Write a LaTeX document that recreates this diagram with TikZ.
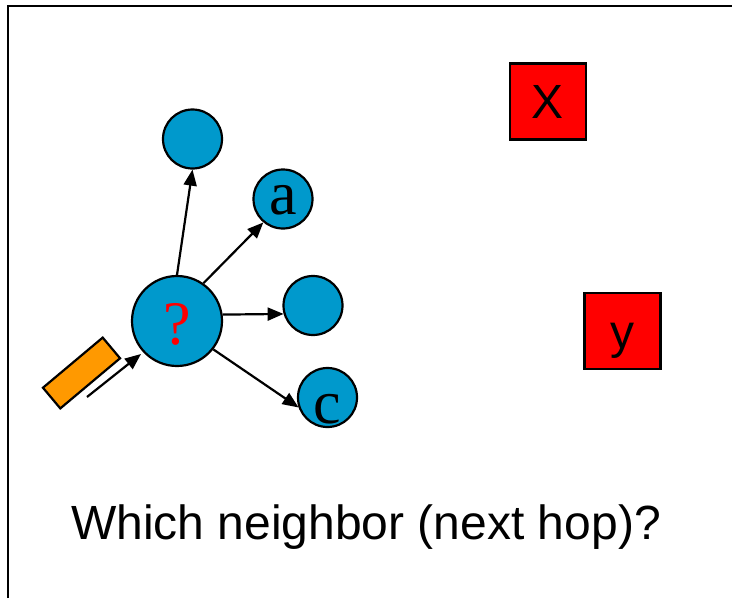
\documentclass[tikz,border=0pt]{standalone}
\usepackage{fontspec}
\setmainfont{Liberation Serif}
\newfontfamily\arialfont{Liberation Sans}
\usetikzlibrary{arrows.meta}
\definecolor{nodeblue}{HTML}{0099CC}
\definecolor{packet}{HTML}{FF9900}
\begin{document}
\begin{tikzpicture}[x=1pt,y=-1pt,
  peer/.style={circle,draw=black,line width=2.2pt,fill=nodeblue,minimum size=59pt,inner sep=0pt},
  dest/.style={rectangle,draw=black,line width=2.2pt,fill=red,minimum size=76pt,inner sep=0pt,
    font=\arialfont\fontsize{48}{48}\selectfont,text height=34pt,text depth=0pt},
  link/.style={line width=2.2pt,-{Triangle[length=16pt,width=13pt]}},
  tag/.style={anchor=base,inner sep=0pt,font=\fontsize{62}{62}\selectfont}
]
\useasboundingbox (0,0) rectangle (732,598);
% frame
\draw[line width=2.2pt] (8,598) -- (8,6) -- (732,6);

% current router and its neighbours
\node[peer,minimum size=90pt] (q) at (177,321) {};
\node[peer] (t) at (192.5,139) {};
\node[peer] (a) at (283,199) {};
\node[peer] (m) at (313,305.5) {};
\node[peer] (c) at (327.5,397.5) {};

\node[tag,text=red] (ql) at (177,344) {?};
\node[tag] (al) at (283.5,214) {a};
\node[tag] (cl) at (327.5,423) {c};

\draw[link] (q.north) -- (t.south);
\draw[link] (q.55) -- (a.230);
\draw[link] (q.8.7) -- (m.196);
\draw[link] (q.-38) -- (c.199.6);

% incoming packet
\node[draw=black,line width=2.2pt,fill=packet,rotate=40,minimum width=78pt,minimum height=27pt,inner sep=0pt] (pkt) at (81.5,373) {};
\coordinate (p1) at (87,397);
\coordinate (p2) at (141,354);
\draw[link] (p1) -- (p2);

% destinations
\node[dest] (x) at (548,101.5) {X};
\node[dest] (y) at (622.5,331) {y};

\node[anchor=base,inner sep=0pt,font=\arialfont\fontsize{48}{48}\selectfont] (caption) at (366,539) {Which neighbor (next hop)?};
\end{tikzpicture}
\end{document}
